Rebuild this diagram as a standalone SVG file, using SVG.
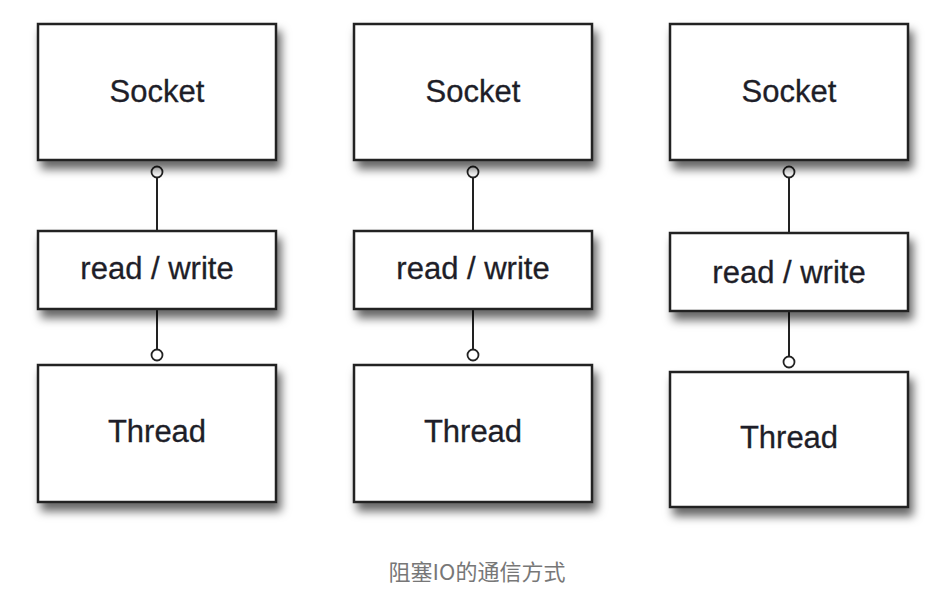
<svg xmlns="http://www.w3.org/2000/svg" width="950" height="613" viewBox="0 0 950 613">
<defs>
<filter id="sh" x="-10%" y="-10%" width="130%" height="150%">
<feDropShadow dx="4" dy="8" stdDeviation="5" flood-color="#000" flood-opacity="0.6"/>
</filter>
</defs>
<style>
.box{fill:#fff;stroke:#222;stroke-width:2.5;filter:url(#sh)}
.t{font-family:"Liberation Sans",Arial,sans-serif;fill:#1e1e28;text-anchor:middle;stroke:#1e1e28;stroke-width:0.3}
.big{font-size:31px}
.mid{font-size:31px}
.ln{stroke:#222;stroke-width:2;fill:none}
.c{fill:#fff;stroke:#222;stroke-width:1.8}
.cap{font-family:"Noto Sans CJK SC",sans-serif;font-size:22px;fill:#777;text-anchor:middle}
</style>
<rect width="950" height="613" fill="#fff"/>
<g id="connectors">
<line class="ln" x1="157" y1="172" x2="157" y2="231"/>
<line class="ln" x1="157" y1="309" x2="157" y2="355"/>
<circle class="c" cx="157" cy="172" r="5.5"/>
<circle class="c" cx="157" cy="355" r="5.5"/>
<line class="ln" x1="473" y1="172" x2="473" y2="231"/>
<line class="ln" x1="473" y1="309" x2="473" y2="355"/>
<circle class="c" cx="473" cy="172" r="5.5"/>
<circle class="c" cx="473" cy="355" r="5.5"/>
<line class="ln" x1="789" y1="172" x2="789" y2="233"/>
<line class="ln" x1="789" y1="311" x2="789" y2="362"/>
<circle class="c" cx="789" cy="172" r="5.5"/>
<circle class="c" cx="789" cy="362" r="5.5"/>
</g>
<g id="socket1"><rect class="box" x="38" y="24" width="238" height="136"/><text class="t big" x="157" y="102">Socket</text></g>
<g id="rw1"><rect class="box" x="38" y="231" width="238" height="78"/><text class="t mid" x="157" y="279">read / write</text></g>
<g id="thread1"><rect class="box" x="38" y="365" width="238" height="137"/><text class="t big" x="157" y="442">Thread</text></g>
<g id="socket2"><rect class="box" x="354" y="24" width="238" height="136"/><text class="t big" x="473" y="102">Socket</text></g>
<g id="rw2"><rect class="box" x="354" y="231" width="238" height="78"/><text class="t mid" x="473" y="279">read / write</text></g>
<g id="thread2"><rect class="box" x="354" y="365" width="238" height="137"/><text class="t big" x="473" y="442">Thread</text></g>
<g id="socket3"><rect class="box" x="670" y="24" width="238" height="136"/><text class="t big" x="789" y="102">Socket</text></g>
<g id="rw3"><rect class="box" x="670" y="233" width="238" height="78"/><text class="t mid" x="789" y="283">read / write</text></g>
<g id="thread3"><rect class="box" x="670" y="372" width="238" height="135"/><text class="t big" x="789" y="448">Thread</text></g>
<text class="cap" x="477" y="580">阻塞IO的通信方式</text>
</svg>
